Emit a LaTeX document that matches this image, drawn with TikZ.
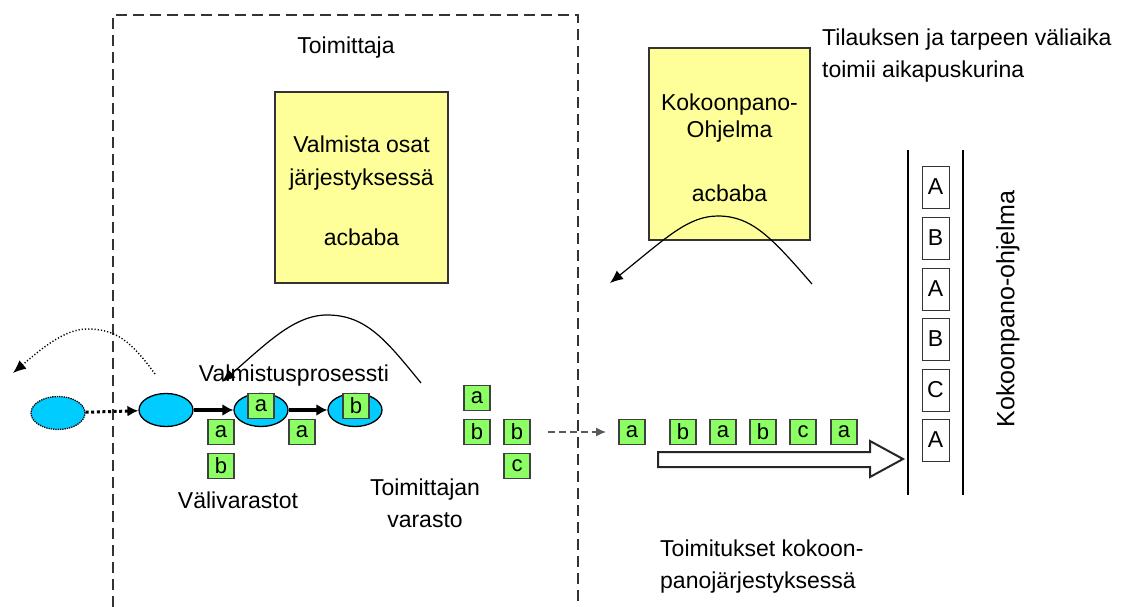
\documentclass[tikz,border=0pt]{standalone}
\usepackage{fontspec}
\setmainfont{Liberation Sans}
\usetikzlibrary{arrows.meta,shapes.geometric}
\definecolor{noteyellow}{RGB}{255,255,153}
\definecolor{partgreen}{RGB}{140,255,100}
\definecolor{proccyan}{RGB}{0,204,255}
\tikzset{
  txt/.style={font=\fontsize{23}{32}\selectfont, inner sep=0pt, align=center},
  plan/.style={draw=black!80, line width=1.6pt, fill=noteyellow, minimum width=173pt, minimum height=191pt, inner sep=0pt},
  part/.style={draw=black!75, line width=1.6pt, fill=partgreen, minimum width=26pt, minimum height=25pt, inner sep=0pt, font=\fontsize{22}{26}\selectfont},
  order/.style={draw=black!80, line width=1pt, fill=white, minimum width=27pt, minimum height=42pt, inner sep=0pt, font=\fontsize{23}{26}\selectfont},
  proc/.style={ellipse, draw=black, line width=1.3pt, fill=proccyan, minimum width=54pt, minimum height=33pt, inner sep=0pt},
  flow/.style={line width=3.2pt, -{Latex[length=11pt,width=12pt]}},
  curve/.style={line width=1.2pt, -{Latex[length=13pt,width=11pt]}},
}
\begin{document}
\begin{tikzpicture}[x=1pt,y=-1pt]
\useasboundingbox (0,0) rectangle (1135,607);

% supplier boundary, open at the bottom
\draw[line width=1.6pt, black!80, dash pattern=on 11pt off 6pt] (113,607) -- (113,15) -- (578,15) -- (578,607);
\node[txt] (supplier) at (346,48) {Toimittaja};

% planning notes
\node[plan] (plan1) at (361.5,187.5) {};
\node[txt, anchor=base] (plan1a) at (361.5,153) {Valmista osat};
\node[txt, anchor=base] (plan1b) at (361.5,185) {järjestyksessä};
\node[txt, anchor=base] (plan1c) at (361.5,245) {acbaba};

\node[plan, minimum width=161pt, minimum height=192pt] (plan2) at (729.5,144) {};
\node[txt, anchor=base] (plan2a) at (729.5,111) {Kokoonpano-};
\node[txt, anchor=base] (plan2b) at (729.5,138) {Ohjelma};
\node[txt, anchor=base] (plan2c) at (729.5,201) {acbaba};

\node[txt, anchor=base west, align=left] (note) at (822,46) {Tilauksen ja tarpeen väliaika};
\node[txt, anchor=base west, align=left] (note2) at (822,78) {toimii aikapuskurina};

% information flowing back upstream
\coordinate (c1s) at (812,284);
\coordinate (c1e) at (610,283);
\draw[curve] (c1s) .. controls (772,238) and (752,216) .. (718,216)
                   .. controls (688,216) and (666,238) .. (c1e);
\coordinate (c2s) at (421,383);
\coordinate (c2e) at (222,382);
\draw[curve] (c2s) .. controls (386,340) and (366,315) .. (327,315)
                   .. controls (294,315) and (266,344) .. (c2e);
\coordinate (c3s) at (155,374);
\coordinate (c3e) at (13,373);
\draw[curve, dotted, line width=1.4pt] (c3s) .. controls (131,341) and (116,329) .. (87,329)
                   .. controls (64,329) and (40,350) .. (c3e);

% manufacturing process
\node[proc, densely dotted] (e1) at (58,413) {};
\node[proc] (e2) at (166,410) {};
\node[proc] (e3) at (261,410) {};
\node[proc] (e4) at (355,410) {};
\draw[line width=3pt, dash pattern=on 3pt off 2.6pt, -{Latex[length=11pt,width=11pt]}] (e1) -- (e2);
\draw[flow] (e2) -- (e3);
\draw[flow] (e3) -- (e4);
\node[txt] (proclbl) at (294,376) {Valmistusprosessti};

\node[part] (p3) at (261,406) {a};
\node[part] (p4) at (356,406) {b};
\node[part] (w1) at (221,432) {a};
\node[part] (w2) at (221,466) {b};
\node[part] (w3) at (302,432) {a};
\node[txt] (wiplbl) at (238,500) {Välivarastot};

% supplier stock
\node[part] (s1) at (477,398) {a};
\node[part] (s2) at (477,432) {b};
\node[part] (s3) at (517,432) {b};
\node[part] (s4) at (517,466) {c};
\node[txt] (stocklbl) at (425,503) {Toimittajan\\varasto};

% deliveries in assembly order
\node[part] (d1) at (632,432) {a};
\node[part] (d2) at (683,432) {b};
\node[part] (d3) at (723,432) {a};
\node[part] (d4) at (763,432) {b};
\node[part] (d5) at (803,432) {c};
\node[part] (d6) at (844,432) {a};
\draw[line width=1.8pt, black!65, dash pattern=on 7pt off 4pt, -{Latex[length=10pt,width=9pt]}, shorten <=17pt, shorten >=12pt] (s3) -- (d1);
\draw[line width=2pt, draw=black!85, fill=white, line join=miter]
  (658,452) -- (870,452) -- (870,441) -- (903,459) -- (870,477) -- (870,467) -- (658,467) -- cycle;
\node[txt, anchor=base west, align=left] (delivlbl) at (660,556) {Toimitukset kokoon-};
\node[txt, anchor=base west, align=left] (delivlbl2) at (660,588) {panojärjestyksessä};

% assembly schedule
\draw[line width=1.3pt] (908,150) -- (908,495);
\draw[line width=1.3pt] (963,150) -- (963,495);
\node[order] (o1) at (935.5,187) {A};
\node[order] (o2) at (935.5,238) {B};
\node[order] (o3) at (935.5,289) {A};
\node[order] (o4) at (935.5,339) {B};
\node[order] (o5) at (935.5,390) {C};
\node[order] (o6) at (935.5,440) {A};
\node[txt, rotate=90, font=\fontsize{25}{30}\selectfont] (schedlbl) at (1008,309) {Kokoonpano-ohjelma};
\end{tikzpicture}
\end{document}
